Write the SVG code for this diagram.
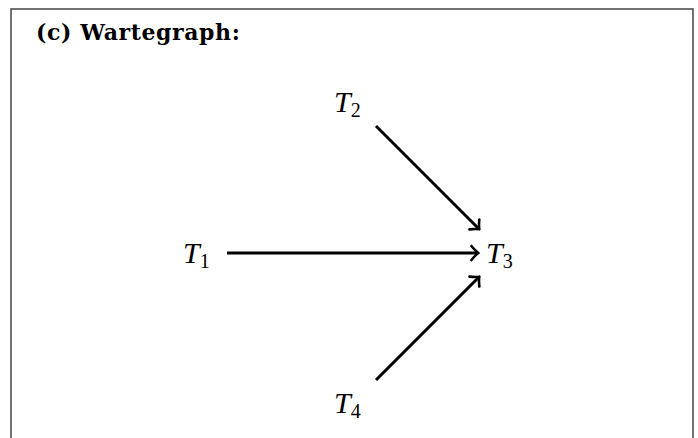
<svg xmlns="http://www.w3.org/2000/svg" width="698" height="438" viewBox="0 0 698 438">
<defs>
<marker id="arr" markerUnits="userSpaceOnUse" markerWidth="20" markerHeight="20" viewBox="-10 -10 20 20" refX="0" refY="0" orient="auto">
<path d="M -6.5 -7 Q -2 -1.5 0.5 0 Q -2 1.5 -6.5 7" fill="none" stroke="#000" stroke-width="2.6" stroke-linecap="round" stroke-linejoin="round"/>
</marker>
<style>
.t{font-family:"Liberation Serif","DejaVu Serif",serif;font-size:30px;font-style:italic;fill:#000}
.s{font-family:"Liberation Serif","DejaVu Serif",serif;font-size:20px;font-style:normal;fill:#000}
.e{fill:none;stroke:#000;stroke-width:3;marker-end:url(#arr)}
</style>
</defs>
<rect x="0" y="0" width="698" height="438" fill="#fff"/>
<path d="M 11 438 V 9 H 693 V 438" fill="none" stroke="#444" stroke-width="1.5"/>
<text x="36" y="40" font-family="DejaVu Serif, Liberation Serif, serif" font-size="22" font-weight="bold" letter-spacing="0.6">(c) Wartegraph:</text>
<g id="connectors">
<line class="e" x1="227" y1="253" x2="478" y2="253"/>
<line class="e" x1="376" y1="126" x2="479" y2="229"/>
<line class="e" x1="376" y1="380" x2="479" y2="277"/>
</g>
<g id="T1"><text class="t" x="183" y="263">T<tspan class="s" dy="5">1</tspan></text></g>
<g id="T2"><text class="t" x="334" y="112">T<tspan class="s" dy="5">2</tspan></text></g>
<g id="T3"><text class="t" x="486" y="263">T<tspan class="s" dy="5">3</tspan></text></g>
<g id="T4"><text class="t" x="334" y="413">T<tspan class="s" dy="5">4</tspan></text></g>
</svg>
